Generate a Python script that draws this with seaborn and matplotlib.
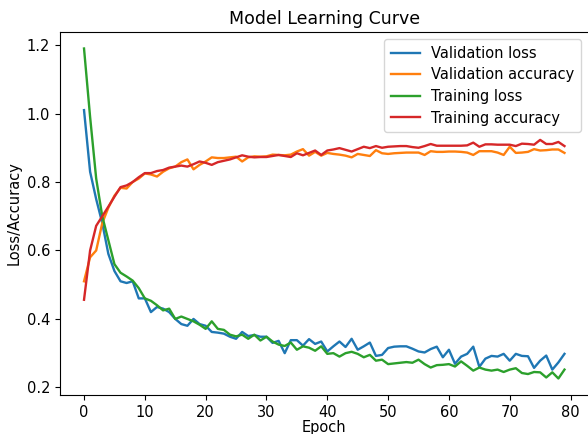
import numpy as np
import pandas as pd
import matplotlib
matplotlib.use("Agg")
import matplotlib.pyplot as plt
import seaborn as sns

epochs = list(range(80))

val_loss = [1.01, 0.83, 0.75, 0.68, 0.59, 0.54, 0.51, 0.505, 0.51, 0.46,
            0.46, 0.42, 0.435, 0.43, 0.42, 0.40, 0.385, 0.38, 0.40, 0.385,
            0.38, 0.362, 0.36, 0.357, 0.348, 0.342, 0.362, 0.35, 0.353, 0.348,
            0.348, 0.33, 0.336, 0.30, 0.338, 0.338, 0.322, 0.341, 0.327, 0.334,
            0.305, 0.32, 0.334, 0.318, 0.342, 0.31, 0.32, 0.331, 0.292, 0.295,
            0.315, 0.319, 0.32, 0.32, 0.313, 0.305, 0.302, 0.312, 0.319, 0.288,
            0.31, 0.269, 0.29, 0.298, 0.319, 0.26, 0.284, 0.292, 0.29, 0.298,
            0.278, 0.298, 0.292, 0.291, 0.257, 0.278, 0.293, 0.252, 0.273, 0.298]

val_acc = [0.51, 0.58, 0.60, 0.68, 0.725, 0.76, 0.783, 0.781, 0.80, 0.81,
           0.825, 0.822, 0.816, 0.83, 0.84, 0.845, 0.858, 0.866, 0.837, 0.85,
           0.86, 0.872, 0.87, 0.87, 0.872, 0.874, 0.86, 0.872, 0.875, 0.874,
           0.875, 0.88, 0.879, 0.878, 0.88, 0.889, 0.896, 0.877, 0.888, 0.877,
           0.885, 0.882, 0.88, 0.877, 0.872, 0.882, 0.879, 0.876, 0.893, 0.884,
           0.882, 0.884, 0.885, 0.886, 0.886, 0.886, 0.879, 0.89, 0.888, 0.888,
           0.889, 0.889, 0.888, 0.886, 0.879, 0.89, 0.89, 0.89, 0.886, 0.879,
           0.903, 0.885, 0.886, 0.888, 0.896, 0.892, 0.893, 0.895, 0.895, 0.885]

train_loss = [1.19, 0.99, 0.81, 0.70, 0.63, 0.56, 0.535, 0.524, 0.512, 0.49,
              0.46, 0.453, 0.44, 0.425, 0.43, 0.40, 0.407, 0.40, 0.393, 0.383,
              0.371, 0.393, 0.371, 0.368, 0.354, 0.349, 0.354, 0.342, 0.354, 0.337,
              0.348, 0.334, 0.325, 0.321, 0.331, 0.31, 0.32, 0.316, 0.307, 0.32,
              0.298, 0.30, 0.29, 0.30, 0.304, 0.298, 0.288, 0.295, 0.278, 0.281,
              0.268, 0.27, 0.272, 0.274, 0.272, 0.281, 0.268, 0.258, 0.265, 0.266,
              0.268, 0.261, 0.276, 0.263, 0.249, 0.258, 0.252, 0.249, 0.252, 0.245,
              0.252, 0.256, 0.242, 0.239, 0.245, 0.244, 0.229, 0.244, 0.226, 0.252]

train_acc = [0.456, 0.60, 0.672, 0.70, 0.728, 0.757, 0.785, 0.79, 0.80, 0.814,
             0.826, 0.826, 0.832, 0.835, 0.842, 0.845, 0.848, 0.845, 0.852, 0.86,
             0.856, 0.85, 0.858, 0.862, 0.866, 0.872, 0.878, 0.874, 0.872, 0.873,
             0.873, 0.876, 0.879, 0.876, 0.873, 0.884, 0.878, 0.885, 0.892, 0.879,
             0.892, 0.895, 0.899, 0.894, 0.889, 0.896, 0.903, 0.899, 0.905, 0.90,
             0.903, 0.904, 0.905, 0.905, 0.902, 0.90, 0.905, 0.911, 0.906, 0.906,
             0.906, 0.906, 0.906, 0.907, 0.915, 0.903, 0.91, 0.91, 0.909, 0.909,
             0.909, 0.905, 0.912, 0.911, 0.909, 0.923, 0.911, 0.911, 0.917, 0.905]

series_names = ["Validation loss", "Validation accuracy", "Training loss", "Training accuracy"]
series_values = [val_loss, val_acc, train_loss, train_acc]

frames = []
for name, vals in zip(series_names, series_values):
    frames.append(pd.DataFrame({"Epoch": epochs, "value": vals, "series": name}))
df = pd.concat(frames, ignore_index=True)

plt.rcParams["font.family"] = ["DejaVu Sans"]

fig = plt.figure(figsize=(5.88, 4.34), dpi=100)
ax = fig.add_axes([60 / 588, 1 - 395 / 434, 528.5 / 588, (395 - 32) / 434])

palette = dict(zip(series_names, ["#1f77b4", "#ff7f0e", "#2ca02c", "#d62728"]))
sns.lineplot(data=df, x="Epoch", y="value", hue="series", hue_order=series_names,
             palette=palette, linewidth=1.7, ax=ax, legend=False)

for name in series_names:
    ax.plot([], [], color=palette[name], linewidth=1.7, label=name)
ax.legend(loc="upper right", fontsize=10.5, handlelength=2.0, borderpad=0.45,
          labelspacing=0.45)

ax.set_title("Model Learning Curve", fontsize=12.5, pad=6)
ax.set_xlabel("Epoch", fontsize=10.5, labelpad=0.5)
ax.set_ylabel("Loss/Accuracy", fontsize=10.5)
ax.tick_params(labelsize=10.5)
ax.set_xticks([0, 10, 20, 30, 40, 50, 60, 70, 80])
ax.set_yticks([0.2, 0.4, 0.6, 0.8, 1.0, 1.2])
ax.margins(x=0.05, y=0.05)

fig.savefig("out.png", dpi=100)
